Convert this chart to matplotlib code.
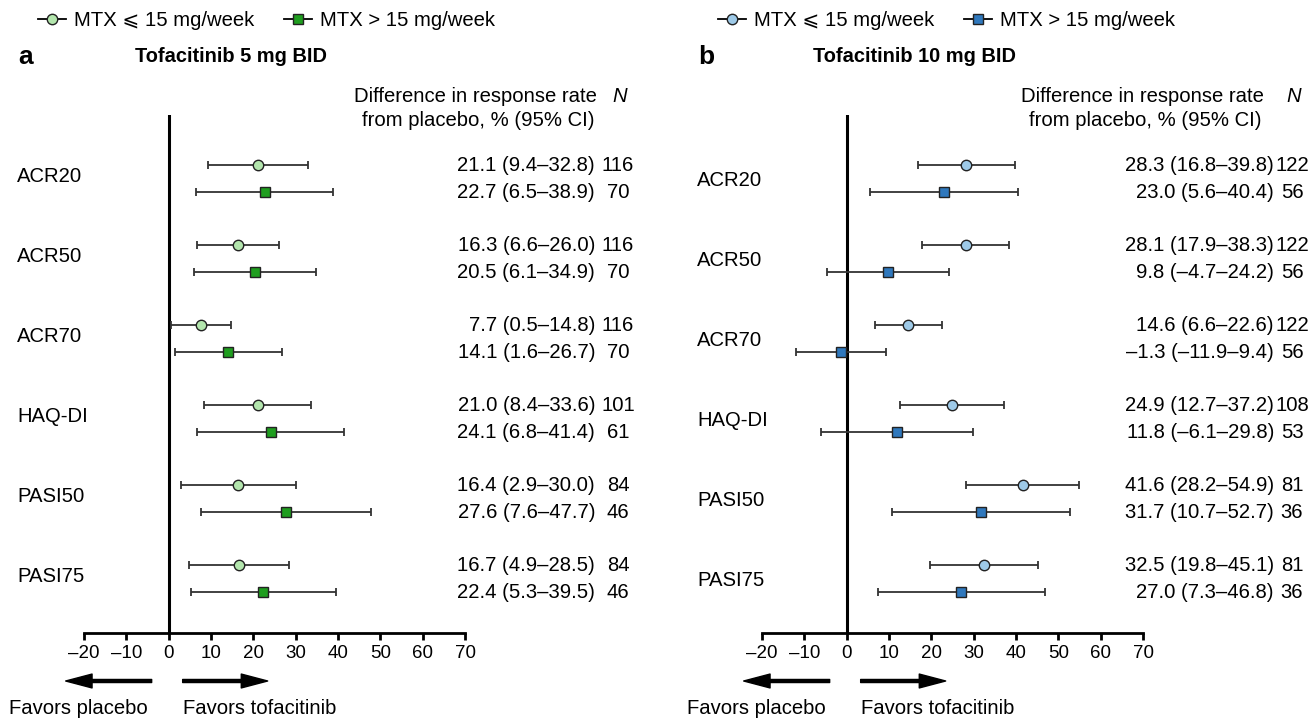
import matplotlib
matplotlib.use('Agg')

import numpy as np
import matplotlib.pyplot as plt
from matplotlib.lines import Line2D

# --- data ---
ENDPOINTS = ['ACR20', 'ACR50', 'ACR70', 'HAQ-DI', 'PASI50', 'PASI75']

# Tofacitinib 5 mg BID
A_LOW_EST = [21.1, 16.3, 7.7, 21.0, 16.4, 16.7]
A_LOW_LO = [9.4, 6.6, 0.5, 8.4, 2.9, 4.9]
A_LOW_HI = [32.8, 26.0, 14.8, 33.6, 30.0, 28.5]
A_LOW_N = [116, 116, 116, 101, 84, 84]
A_HIGH_EST = [22.7, 20.5, 14.1, 24.1, 27.6, 22.4]
A_HIGH_LO = [6.5, 6.1, 1.6, 6.8, 7.6, 5.3]
A_HIGH_HI = [38.9, 34.9, 26.7, 41.4, 47.7, 39.5]
A_HIGH_N = [70, 70, 70, 61, 46, 46]

# Tofacitinib 10 mg BID
B_LOW_EST = [28.3, 28.1, 14.6, 24.9, 41.6, 32.5]
B_LOW_LO = [16.8, 17.9, 6.6, 12.7, 28.2, 19.8]
B_LOW_HI = [39.8, 38.3, 22.6, 37.2, 54.9, 45.1]
B_LOW_N = [122, 122, 122, 108, 81, 81]
B_HIGH_EST = [23.0, 9.8, -1.3, 11.8, 31.7, 27.0]
B_HIGH_LO = [5.6, -4.7, -11.9, -6.1, 10.7, 7.3]
B_HIGH_HI = [40.4, 24.2, 9.4, 29.8, 52.7, 46.8]
B_HIGH_N = [56, 56, 56, 53, 36, 36]

X_TICKS = [-20, -10, 0, 10, 20, 30, 40, 50, 60, 70]

# --- style ---
W, H = 1312, 718
FONT = ['Liberation Sans', 'DejaVu Sans']
FS = 14.6
FS_TICK = 13.5
plt.rcParams['font.family'] = FONT
plt.rcParams['font.size'] = FS

GREEN_LIGHT = '#b3e6ad'
GREEN_DARK = '#1f9e1f'
BLUE_LIGHT = '#9ecae8'
BLUE_DARK = '#2f78bd'
ERR_COLOR = '#333333'


def fx(px):
    return px / W


def fy(py):
    return 1 - py / H


def fmt(v):
    return f'{v:.1f}'.replace('-', '\u2013')


def draw_panel(fig, x_left, x_right, letter, title, series, label_dy, col):
    """col: (panel left px, estimate right px, N center px, header center px)"""
    ax = fig.add_axes([fx(x_left), fy(633), fx(x_right) - fx(x_left), fy(115) - fy(633)])
    ax.set_xlim(-20, 70)
    ax.set_ylim(5.68, -0.794)
    for s in ['top', 'left', 'right']:
        ax.spines[s].set_visible(False)
    ax.spines['bottom'].set_linewidth(2)
    ax.set_yticks([])
    ax.set_xticks(X_TICKS)
    ax.set_xticklabels([str(t).replace('-', '\u2013') for t in X_TICKS])
    ax.tick_params(axis='x', length=5, width=2, pad=4, labelsize=FS_TICK)
    ax.axvline(0, color='black', lw=2.2, zorder=1)

    offsets = [-0.169, 0.169]
    blend = matplotlib.transforms.blended_transform_factory(fig.transFigure, ax.transData)

    y_idx = np.arange(len(ENDPOINTS))
    for k, (est, lo, hi, nn, marker, color) in enumerate(series):
        est = np.array(est)
        lo = np.array(lo)
        hi = np.array(hi)
        y = y_idx + offsets[k]
        ax.errorbar(est, y, xerr=[est - lo, hi - est], fmt='none', ecolor=ERR_COLOR,
                    elinewidth=1.3, capsize=3, capthick=1.3, zorder=2, clip_on=False)
        ax.plot(est, y, linestyle='none', marker=marker, markersize=7.5 if marker == 'o' else 7,
                markerfacecolor=color, markeredgecolor='#222222', markeredgewidth=1.0,
                zorder=3, clip_on=False)
        for yi, e, l, h, n in zip(y, est, lo, hi, nn):
            ax.text(fx(col[1]), yi, f'{fmt(e)} ({fmt(l)}\u2013{fmt(h)})', transform=blend,
                    ha='right', va='center', fontsize=FS)
            ax.text(fx(col[2]), yi, str(n), transform=blend, ha='center', va='center', fontsize=FS)

    for i, name in enumerate(ENDPOINTS):
        ax.text(fx(col[0]), i + label_dy, name, transform=blend, ha='left', va='center', fontsize=FS)

    # header
    fig.text(fx(col[3]), fy(97), 'Difference in response rate',
             ha='center', va='center', fontsize=FS)
    fig.text(fx(col[3] + 3), fy(121), 'from placebo, % (95% CI)',
             ha='center', va='center', fontsize=FS)
    fig.text(fx(col[2] + 2), fy(97), 'N', ha='center', va='center', fontsize=FS, style='italic')

    # panel letter and title
    fig.text(fx(col[0] + 1), fy(57), letter, ha='left', va='center', fontsize=19, fontweight='bold')
    fig.text(fx(x_left + 51), fy(57), title, ha='left', va='center', fontsize=14.4, fontweight='bold')

    # arrows
    zero_px = x_left + (x_right - x_left) * 20 / 90
    y_arr = fy(681)
    aprops = dict(facecolor='black', edgecolor='black', width=2.2, headwidth=10,
                  headlength=19, shrink=0)
    ax.annotate('', xy=(fx(zero_px - 103), y_arr), xytext=(fx(zero_px - 17), y_arr),
                xycoords='figure fraction', textcoords='figure fraction', arrowprops=aprops,
                annotation_clip=False)
    ax.annotate('', xy=(fx(zero_px + 99), y_arr), xytext=(fx(zero_px + 14), y_arr),
                xycoords='figure fraction', textcoords='figure fraction', arrowprops=aprops,
                annotation_clip=False)
    fig.text(fx(zero_px - 160), fy(708), 'Favors placebo', ha='left', va='center', fontsize=FS)
    fig.text(fx(zero_px + 14), fy(708), 'Favors tofacitinib', ha='left', va='center', fontsize=FS)

    # legend
    h1 = Line2D([], [], color='black', lw=1.3, marker='o', markersize=7.5,
                markerfacecolor=series[0][5], markeredgecolor='#222222')
    h2 = Line2D([], [], color='black', lw=1.3, marker='s', markersize=7,
                markerfacecolor=series[1][5], markeredgecolor='#222222')
    fig.legend([h1, h2], ['MTX \u2a7d 15 mg/week', 'MTX > 15 mg/week'],
               loc='center left', bbox_to_anchor=(fx(col[0] + 21), fy(21)), ncol=2,
               frameon=False, fontsize=FS, handlelength=1.38, handletextpad=0.4,
               columnspacing=1.45, borderpad=0, borderaxespad=0)
    return ax


fig = plt.figure(figsize=(W / 100, H / 100), dpi=100)

series_a = [
    (A_LOW_EST, A_LOW_LO, A_LOW_HI, A_LOW_N, 'o', GREEN_LIGHT),
    (A_HIGH_EST, A_HIGH_LO, A_HIGH_HI, A_HIGH_N, 's', GREEN_DARK),
]
series_b = [
    (B_LOW_EST, B_LOW_LO, B_LOW_HI, B_LOW_N, 'o', BLUE_LIGHT),
    (B_HIGH_EST, B_HIGH_LO, B_HIGH_HI, B_HIGH_N, 's', BLUE_DARK),
]

draw_panel(fig, 84, 465, 'a', 'Tofacitinib 5 mg BID', series_a, -0.02, (17, 595, 618, 475))
draw_panel(fig, 762, 1143, 'b', 'Tofacitinib 10 mg BID', series_b, 0.03, (697, 1274, 1292, 1142))

fig.savefig('out.png', dpi=100)
